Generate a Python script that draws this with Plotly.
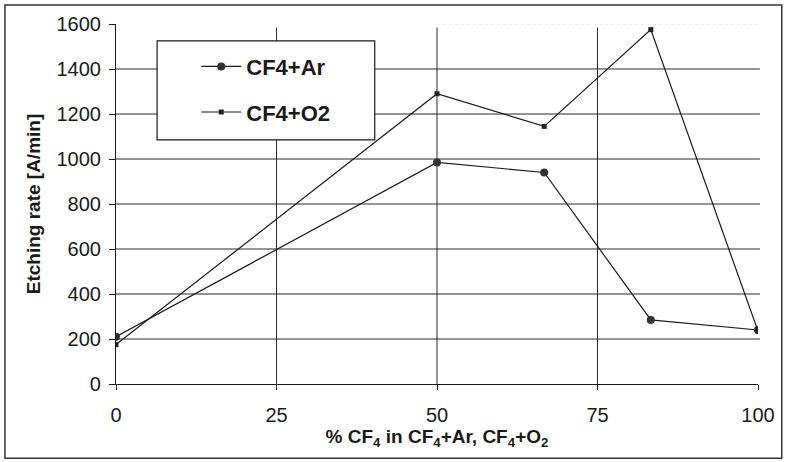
import plotly.graph_objects as go

# Data
x_pct = [0, 50, 66.7, 83.3, 100]
cf4_ar = [210, 985, 940, 285, 240]
cf4_o2 = [175, 1290, 1145, 1575, 235]

x_ticks = [0, 25, 50, 75, 100]
y_ticks = [0, 200, 400, 600, 800, 1000, 1200, 1400, 1600]

FONT = "Liberation Sans, Arial, sans-serif"
INK = "#1a1a1a"

fig = go.Figure()
fig.add_trace(go.Scatter(
    x=x_pct, y=cf4_ar, name="CF4+Ar", mode="lines+markers",
    line=dict(color=INK, width=1.2),
    marker=dict(symbol="circle", size=8, color="#333333"),
    legendgroup="a",
))
fig.add_trace(go.Scatter(
    x=x_pct, y=cf4_o2, name="CF4+O2", mode="lines+markers",
    line=dict(color=INK, width=1.2),
    marker=dict(symbol="square", size=5, color="#222222"),
    legendgroup="b",
))

shapes = []
# horizontal grid lines
for v in y_ticks[1:-1]:
    shapes.append(dict(type="line", xref="paper", yref="y", x0=0, x1=1.003, y0=v, y1=v,
                       line=dict(color="#2a2a2a", width=1), layer="below"))
# faint top line
shapes.append(dict(type="line", xref="paper", yref="y", x0=0.5, x1=1.0, y0=y_ticks[-1], y1=y_ticks[-1],
                   line=dict(color="#dddddd", width=1, dash="dot"), layer="below"))
# vertical grid lines
for v in x_ticks[1:-1]:
    shapes.append(dict(type="line", xref="x", yref="paper", x0=v, x1=v, y0=0, y1=0.99,
                       line=dict(color="#2a2a2a", width=1), layer="below"))
# legend box
shapes.append(dict(type="rect", xref="paper", yref="paper", x0=0.064, x1=0.403, y0=0.678, y1=0.953,
                   line=dict(color=INK, width=1.2), fillcolor="white", layer="above"))
# outer frame
shapes.append(dict(type="rect", xref="paper", yref="paper", x0=-0.173, x1=1.037, y0=-0.206, y1=1.053,
                   line=dict(color="#333333", width=1.5), fillcolor="rgba(0,0,0,0)", layer="above"))

fig.update_layout(
    width=787, height=462,
    margin=dict(l=116, r=29, t=24, b=78),
    paper_bgcolor="white", plot_bgcolor="white",
    font=dict(family=FONT, color=INK),
    shapes=shapes,
    showlegend=True,
    legend=dict(
        x=0.125, y=0.94, xanchor="left", yanchor="top",
        bgcolor="rgba(0,0,0,0)", borderwidth=0,
        font=dict(size=22, family=FONT, color=INK, weight="bold"),
        itemwidth=40, tracegroupgap=14,
    ),
    xaxis=dict(
        range=[0, 100], tickvals=x_ticks, ticktext=[str(t) for t in x_ticks],
        showgrid=False, zeroline=False,
        showline=True, linecolor=INK, linewidth=1.2,
        ticks="outside", ticklen=5, tickcolor=INK,
        tickfont=dict(size=20, family=FONT, color=INK),
        ticklabelstandoff=8,
        title=dict(text="% CF<sub>4</sub> in CF<sub>4</sub>+Ar, CF<sub>4</sub>+O<sub>2</sub>",
                   font=dict(size=19, family=FONT, color=INK, weight="bold"), standoff=0),
    ),
    yaxis=dict(
        range=[0, 1600], tickvals=y_ticks, ticktext=[str(t) for t in y_ticks],
        showgrid=False, zeroline=False,
        showline=True, linecolor=INK, linewidth=1.2,
        ticks="outside", ticklen=6, tickcolor=INK,
        tickfont=dict(size=20, family=FONT, color=INK),
        ticklabelstandoff=4,
        title=dict(text="Etching rate [A/min]",
                   font=dict(size=19, family=FONT, color=INK, weight="bold"), standoff=10),
    ),
)

fig.write_html("out.html")
